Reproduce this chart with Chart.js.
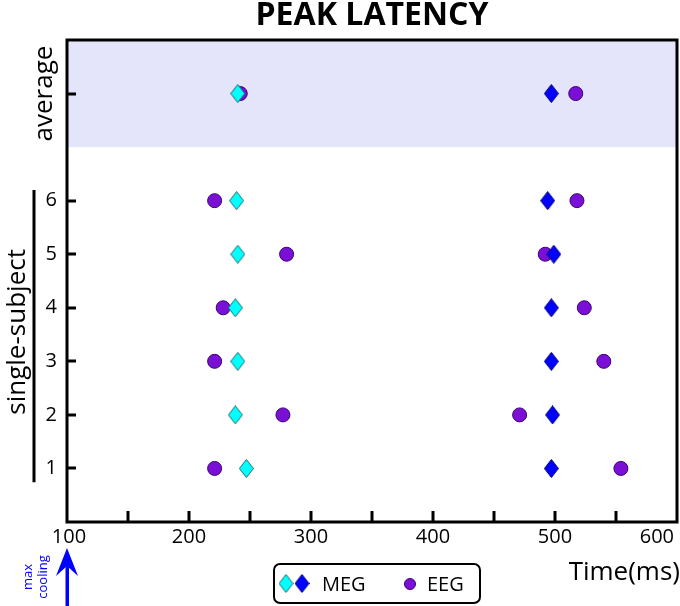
<!DOCTYPE html>
<html>
<head>
<meta charset="utf-8">
<script src="https://cdn.jsdelivr.net/npm/chart.js@4.4.1/dist/chart.umd.min.js"></script>
<style>
  body { margin: 0; background: #fff; }
  #wrap { position: relative; width: 680px; height: 606px; }
</style>
</head>
<body>
<div id="wrap"><canvas id="latencyChart"></canvas></div>
<script>
// rows: subjects 1-6 and the average on top
const rowLabels = ["1", "2", "3", "4", "5", "6", "average"];
const rowPos = [1, 2, 3, 4, 5, 6, 8];

// peak latencies in ms
const megEarly = [247, 238, 240, 238, 240, 239, 240];
const megLate = [497, 498, 497, 497, 499, 494, 497];
const eegEarly = [221, 277, 221, 228, 280, 221, 242];
const eegLate = [554, 471, 540, 524, 492, 518, 517];

const xTickLabels = [100, 200, 300, 400, 500, 600];
const xTickMarks = [150, 200, 250, 300, 350, 400, 450, 500, 550];
const yTickMarks = [1, 2, 3, 4, 5, 6, 8];

const FONT = "'Open Sans', sans-serif";

function makeDiamond(fill, stroke, w, h) {
  const c = document.createElement("canvas");
  c.width = w;
  c.height = h;
  const g = c.getContext("2d");
  g.beginPath();
  g.moveTo(w / 2, 0.5);
  g.lineTo(w - 0.5, h / 2);
  g.lineTo(w / 2, h - 0.5);
  g.lineTo(0.5, h / 2);
  g.closePath();
  g.fillStyle = fill;
  g.fill();
  g.lineWidth = 1;
  g.strokeStyle = stroke;
  g.stroke();
  return c;
}

const cyanDiamond = makeDiamond("#00ffff", "#1c6b6b", 15, 19);
const blueDiamond = makeDiamond("#0000ff", "#000070", 15, 19);

function points(xs) {
  return xs.map((v, i) => ({ x: v, y: rowPos[i] }));
}

const decorations = {
  id: "decorations",
  beforeDatasetsDraw(chart) {
    const { ctx, chartArea: a, scales: { y } } = chart;
    const top = y.getPixelForValue(9);
    const bot = y.getPixelForValue(7);
    ctx.save();
    ctx.fillStyle = "#e4e4fa";
    ctx.fillRect(a.left, top, a.right - a.left, bot - top);
    ctx.restore();
  },
  afterDraw(chart) {
    const { ctx, chartArea: a, scales: { x, y } } = chart;
    ctx.save();

    // frame
    ctx.strokeStyle = "#000";
    ctx.lineWidth = 3;
    ctx.strokeRect(a.left, a.top, a.right - a.left, a.bottom - a.top);

    // inward ticks
    ctx.beginPath();
    xTickMarks.forEach(v => {
      const px = Math.round(x.getPixelForValue(v));
      ctx.moveTo(px, a.bottom);
      ctx.lineTo(px, a.bottom - 11);
    });
    yTickMarks.forEach(v => {
      const py = Math.round(y.getPixelForValue(v));
      ctx.moveTo(a.left, py);
      ctx.lineTo(a.left + 9, py);
    });
    ctx.stroke();

    // x tick labels (last one kept inside the canvas)
    ctx.fillStyle = "#000";
    ctx.font = "20px " + FONT;
    ctx.textBaseline = "alphabetic";
    xTickLabels.forEach((v, i) => {
      const last = i === xTickLabels.length - 1;
      ctx.textAlign = last ? "right" : "center";
      const px = last ? a.right - 3 : x.getPixelForValue(v) + (i === 0 ? 2 : 0);
      ctx.fillText(String(v), px, 543);
    });

    // title
    ctx.font = "bold 32px " + FONT;
    ctx.textAlign = "center";
    const tw = ctx.measureText("PEAK LATENCY").width;
    ctx.save();
    ctx.translate((a.left + a.right) / 2, 25);
    ctx.scale(233 / tw, 1);
    ctx.fillText("PEAK LATENCY", 0, 0);
    ctx.restore();

    // y labels
    ctx.font = "26px " + FONT;
    ctx.save();
    ctx.translate(52, y.getPixelForValue(8));
    ctx.rotate(-Math.PI / 2);
    ctx.fillText("average", 0, 0);
    ctx.restore();
    ctx.save();
    ctx.translate(25, y.getPixelForValue(3.55));
    ctx.rotate(-Math.PI / 2);
    ctx.fillText("single-subject", 0, 0);
    ctx.restore();
    ctx.beginPath();
    ctx.moveTo(34, y.getPixelForValue(6.2));
    ctx.lineTo(34, y.getPixelForValue(0.74));
    ctx.stroke();

    // x title
    ctx.textAlign = "right";
    ctx.fillText("Time(ms)", 680, 580);

    // max cooling arrow
    const ax = x.getPixelForValue(100);
    ctx.fillStyle = "#0000ff";
    ctx.fillRect(ax - 1.5, 560, 3.5, 50);
    ctx.beginPath();
    ctx.moveTo(ax, 548);
    ctx.lineTo(ax + 11, 576);
    ctx.lineTo(ax, 566);
    ctx.lineTo(ax - 11, 576);
    ctx.closePath();
    ctx.fill();
    ctx.font = "13px " + FONT;
    ctx.textAlign = "center";
    ctx.save();
    ctx.translate(32, 577);
    ctx.rotate(-Math.PI / 2);
    ctx.fillText("max", 0, 0);
    ctx.fillText("cooling", 0, 15);
    ctx.restore();

    // legend
    ctx.strokeStyle = "#000";
    ctx.lineWidth = 2;
    ctx.beginPath();
    ctx.roundRect(274, 564, 206, 39, 6);
    ctx.stroke();
    ctx.drawImage(cyanDiamond, 286 - 7.5, 584 - 10);
    ctx.drawImage(blueDiamond, 302 - 7.5, 584 - 10);
    ctx.beginPath();
    ctx.arc(410, 584, 5.5, 0, Math.PI * 2);
    ctx.fillStyle = "#7a10d6";
    ctx.fill();
    ctx.lineWidth = 1;
    ctx.strokeStyle = "#3a0070";
    ctx.stroke();
    ctx.fillStyle = "#000";
    ctx.font = "20px " + FONT;
    ctx.textAlign = "left";
    ctx.fillText("MEG", 322, 591);
    ctx.fillText("EEG", 427, 591);

    ctx.restore();
  }
};

const ctx = document.getElementById("latencyChart").getContext("2d");
new Chart(ctx, {
  type: "scatter",
  data: {
    datasets: [
      {
        label: "MEG",
        data: points(megEarly),
        pointStyle: cyanDiamond,
      },
      {
        label: "MEG late",
        data: points(megLate),
        pointStyle: blueDiamond,
      },
      {
        label: "EEG",
        data: points(eegEarly).concat(points(eegLate)),
        pointStyle: "circle",
        pointRadius: 7,
        backgroundColor: "#7a10d6",
        borderColor: "#3a0070",
        borderWidth: 1,
      },
    ],
  },
  options: {
    responsive: true,
    maintainAspectRatio: false,
    animation: false,
    layout: { autoPadding: false, padding: { top: 40, right: 3, left: 0, bottom: 0 } },
    plugins: {
      legend: { display: false },
      title: { display: false },
      tooltip: { enabled: false },
    },
    scales: {
      x: {
        type: "linear",
        min: 100,
        max: 600,
        ticks: { display: false },
        grid: { display: false, drawTicks: false },
        border: { display: false },
        afterFit: s => { s.height = 84; },
      },
      y: {
        min: 0,
        max: 9,
        afterBuildTicks: s => { s.ticks = rowPos.slice(0, 6).map(v => ({ value: v })); },
        ticks: {
          color: "#000",
          font: { family: FONT, size: 20 },
          padding: 10,
          callback: v => rowLabels[rowPos.indexOf(v)],
        },
        grid: { display: false, drawTicks: false },
        border: { display: false },
        afterFit: s => { s.width = 67; },
      },
    },
  },
  plugins: [decorations],
});
</script>
</body>
</html>
